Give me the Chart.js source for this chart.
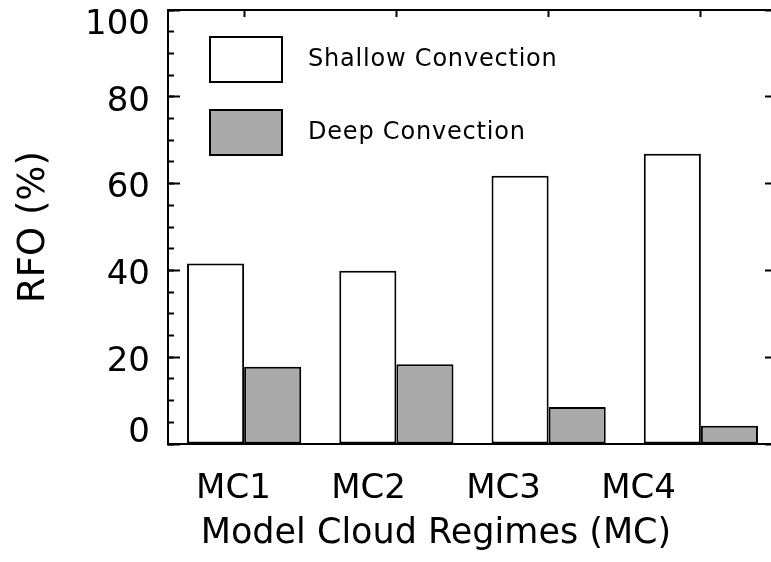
<!DOCTYPE html>
<html>
<head>
<meta charset="utf-8">
<script src="https://cdn.jsdelivr.net/npm/chart.js@4"></script>
<style>
  html, body { margin: 0; padding: 0; background: #fff; overflow: hidden; }
  #wrap { width: 780px; height: 562px; }
</style>
</head>
<body>
<div id="wrap"><canvas id="c" width="780" height="562"></canvas></div>
<script>
// Relative frequency of occurrence (%) per model cloud regime
const categories = ['MC1', 'MC2', 'MC3', 'MC4'];
const shallowConvection = [41.6, 39.9, 61.8, 66.9];
const deepConvection = [17.8, 18.4, 8.5, 4.2];
const seriesNames = ['Shallow Convection', 'Deep Convection'];
const yTicks = [0, 20, 40, 60, 80, 100];
const yMinorTicks = [0, 5, 10, 15, 20, 25, 30, 35, 40, 45, 50, 55, 60, 65, 70, 75, 80, 85, 90, 95, 100];
const yTitle = 'RFO (%)';
const xTitle = 'Model Cloud Regimes (MC)';

const FONT = "'DejaVu Sans', sans-serif";
Chart.defaults.font.family = FONT;
Chart.defaults.color = '#000';

// axes are sized by hand so the frame sits where it should
const noPad = s => { s.paddingTop = 0; s.paddingBottom = 0; s.paddingLeft = 0; s.paddingRight = 0; };
const fixW = w => s => { s.width = w; noPad(s); };
const fixH = h => s => { s.height = h; noPad(s); };
const setTicks = arr => s => { s.ticks = arr.map(v => ({ value: v })); };

const frame = { display: true, color: '#000', width: 2 };

// in-chart legend and the bottom axis title
const decorations = {
  id: 'decorations',
  afterDraw(chart) {
    const { ctx, chartArea } = chart;
    ctx.save();
    chart.data.datasets.forEach((ds, i) => {
      const bx = chartArea.left + 42;
      const by = chartArea.top + 27 + i * 73;
      ctx.fillStyle = ds.backgroundColor;
      ctx.fillRect(bx, by, 72, 45);
      ctx.lineWidth = 2;
      ctx.strokeStyle = '#000';
      ctx.strokeRect(bx, by, 72, 45);
      ctx.fillStyle = '#000';
      ctx.font = '24px ' + FONT;
      ctx.letterSpacing = '0.8px';
      ctx.textAlign = 'left';
      ctx.textBaseline = 'middle';
      ctx.fillText(ds.label, bx + 72 + 26, by + 22.5);
    });
    ctx.letterSpacing = '0px';
    const s = chart.scales.xl;
    ctx.font = '35px ' + FONT;
    ctx.textAlign = 'center';
    ctx.textBaseline = 'alphabetic';
    ctx.fillStyle = '#000';
    ctx.fillText(xTitle, s.getPixelForValue(2.5), s.top + 99);
    ctx.restore();
  }
};

new Chart(document.getElementById('c'), {
  type: 'bar',
  data: {
    labels: categories,
    datasets: [
      { label: seriesNames[0], data: shallowConvection, backgroundColor: '#ffffff',
        borderColor: '#000', borderWidth: 2, borderSkipped: false },
      { label: seriesNames[1], data: deepConvection, backgroundColor: '#aaaaaa',
        borderColor: '#000', borderWidth: 2, borderSkipped: false }
    ]
  },
  options: {
    responsive: false,
    animation: false,
    devicePixelRatio: 1,
    layout: { padding: { top: 10, right: 3, left: 0, bottom: 0 } },
    plugins: { legend: { display: false }, tooltip: { enabled: false } },
    datasets: { bar: { categoryPercentage: 0.75, barPercentage: 1.0 } },
    scales: {
      x: {
        type: 'category', position: 'bottom', weight: 0, offset: true,
        grid: { display: false }, border: frame, ticks: { display: false },
        afterFit: fixH(0)
      },
      // regime labels run on their own spacing below the bars
      xl: {
        type: 'linear', position: 'bottom', weight: 1, offset: false, min: 0.515, max: 5.026,
        afterBuildTicks: setTicks(categories.map((c, i) => i + 1)),
        grid: { display: false, drawTicks: false, offset: false }, border: { display: false },
        ticks: { autoSkip: false, maxRotation: 0, font: { size: 34 }, padding: 25,
                 callback: v => categories[v - 1] },
        afterFit: fixH(118)
      },
      xt: {
        type: 'category', labels: categories, position: 'top', offset: true,
        grid: { display: true, drawOnChartArea: false, offset: false, tickLength: -7,
                tickWidth: 2, tickColor: '#000' },
        border: frame, ticks: { display: false },
        afterFit: fixH(0)
      },
      y: {
        position: 'left', weight: 1, min: 0, max: 100,
        afterBuildTicks: setTicks(yTicks),
        grid: { drawOnChartArea: false, tickLength: -12, tickWidth: 2, tickColor: '#000' },
        border: frame,
        ticks: {
          autoSkip: false, padding: 30, labelOffset: 5,
          // end labels sit inside the axis range
          callback: v => v === 0 ? [String(v), ''] : v === 100 ? ['', String(v)] : String(v),
          font: c => ({ size: 34, lineHeight: c.tick && c.tick.value === 0 ? '32px'
                                      : c.tick && c.tick.value === 100 ? '20px' : 1.2 })
        },
        title: { display: true, text: yTitle, font: { size: 37 }, padding: { top: 12, bottom: 0 } },
        afterFit: fixW(168)
      },
      yMinor: {
        position: 'left', weight: 0, min: 0, max: 100,
        afterBuildTicks: setTicks(yMinorTicks),
        grid: { drawOnChartArea: false, tickLength: -6, tickWidth: 2, tickColor: '#000' },
        border: { display: false }, ticks: { display: false, autoSkip: false },
        afterFit: fixW(0)
      },
      yr: {
        position: 'right', weight: 0, min: 0, max: 100,
        afterBuildTicks: setTicks(yTicks),
        grid: { drawOnChartArea: false, tickLength: -12, tickWidth: 2, tickColor: '#000' },
        border: frame, ticks: { display: false, autoSkip: false },
        afterFit: fixW(0)
      },
      yrMinor: {
        position: 'right', weight: 1, min: 0, max: 100,
        afterBuildTicks: setTicks(yMinorTicks),
        grid: { drawOnChartArea: false, tickLength: -6, tickWidth: 2, tickColor: '#000' },
        border: { display: false }, ticks: { display: false, autoSkip: false },
        afterFit: fixW(0)
      }
    }
  },
  plugins: [decorations]
});
</script>
</body>
</html>
